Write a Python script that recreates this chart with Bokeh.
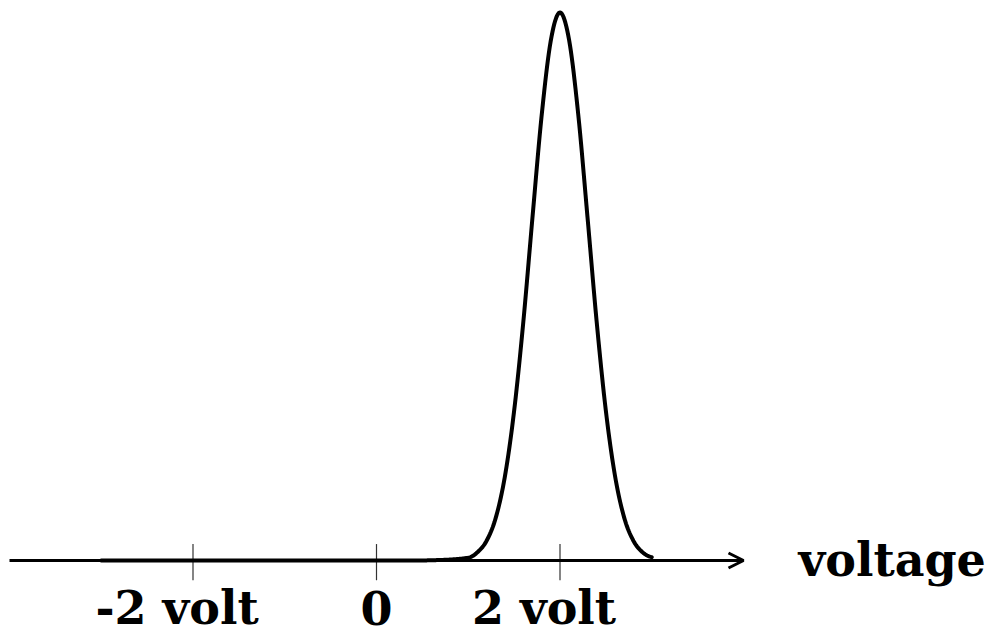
import numpy as np
from bokeh.plotting import figure
from bokeh.models import Arrow, OpenHead, ColumnDataSource, Range1d
from bokeh.core.properties import value
from bokeh.embed import file_html
from bokeh.resources import INLINE

# Axis extent (volts)
axis_start = -4.0
axis_end = 4.0

# Tick positions and labels
tick_pos = [-2, 0, 2]
tick_labels = ["-2 volt", "0", "2 volt"]
axis_title = "voltage"

# Curve samples (voltage, relative height)
curve_x = [-3.0, -2.0, -1.0, 0.0, 0.5, 1.0, 1.1, 1.2, 1.3, 1.4, 1.5, 1.6, 1.7, 1.8, 1.9,
           2.0, 2.1, 2.2, 2.3, 2.4, 2.5, 2.6, 2.7, 2.8, 2.9, 3.0]
curve_y = [0.0, 0.0, 0.0, 0.0, 0.0, 0.005, 0.015, 0.036, 0.078, 0.154, 0.273, 0.435, 0.626, 0.812, 0.949,
           1.0, 0.949, 0.812, 0.626, 0.435, 0.273, 0.154, 0.078, 0.036, 0.015, 0.006]

W, H = 1000, 636
px_per_unit = 91.75
zero_px = 376
base_px = 560
peak_px = 12
yscale = base_px - peak_px

p = figure(width=W, height=H, output_backend="svg", toolbar_location=None,
           x_range=Range1d(-zero_px / px_per_unit, (W - zero_px) / px_per_unit),
           y_range=Range1d(-(H - base_px) / yscale, 1 + peak_px / yscale),
           x_axis_location=None, y_axis_location=None,
           min_border=0, outline_line_color=None)
p.grid.visible = False

# axis with arrow
p.add_layout(Arrow(x_start=axis_start, y_start=0, x_end=axis_end, y_end=0,
                   line_width=3, line_color="black",
                   end=OpenHead(size=15, line_width=3, line_color="black")))

# ticks
tick_src = ColumnDataSource(dict(x=tick_pos, label=tick_labels,
                                 off=[-16 if l != "0" else 0 for l in tick_labels]))
p.segment(x0="x", x1="x", y0=-0.036, y1=0.03, source=tick_src, line_color="#333333", line_width=1.2)


def interp_smooth(xs, ys, xn):
    # cubic Hermite spline through the read points
    xs = np.asarray(xs, dtype=float); ys = np.asarray(ys, dtype=float)
    out = np.interp(xn, xs, ys)
    for i in range(len(xs) - 1):
        m = (xn >= xs[i]) & (xn <= xs[i + 1])
        if not m.any():
            continue
        x0, x1 = xs[i], xs[i + 1]
        y0, y1 = ys[i], ys[i + 1]
        ym1 = ys[i - 1] if i > 0 else y0
        xm1 = xs[i - 1] if i > 0 else x0 - (x1 - x0)
        y2 = ys[i + 2] if i + 2 < len(xs) else y1
        x2 = xs[i + 2] if i + 2 < len(xs) else x1 + (x1 - x0)
        h = x1 - x0
        m0 = (y1 - ym1) / (x1 - xm1) * h
        m1 = (y2 - y0) / (x2 - x0) * h
        t = (xn[m] - x0) / h
        out[m] = ((2*t**3 - 3*t**2 + 1) * y0 + (t**3 - 2*t**2 + t) * m0
                  + (-2*t**3 + 3*t**2) * y1 + (t**3 - t**2) * m1)
    return out


smooth_x = np.linspace(min(curve_x), max(curve_x), 600)
smooth_y = np.clip(interp_smooth(curve_x, curve_y, smooth_x), 0, None)
p.line(smooth_x, smooth_y, line_width=4, line_color="black", line_cap="round", line_join="round")

# tick labels
p.text(x="x", y=0, text="label", source=tick_src, x_offset="off", y_offset=47,
       text_font=value("DejaVu Serif"), text_font_style="bold", text_font_size="46px",
       text_align="center", text_baseline="alphabetic", text_color="black")

# axis title
p.text(x=[axis_end], y=[0], text=[axis_title], x_offset=55, y_offset=-1,
       text_font=value("DejaVu Serif"), text_font_style="bold", text_font_size="46px",
       text_align="left", text_baseline="alphabetic", text_color="black")

open("out.html", "w").write(file_html(p, INLINE))
